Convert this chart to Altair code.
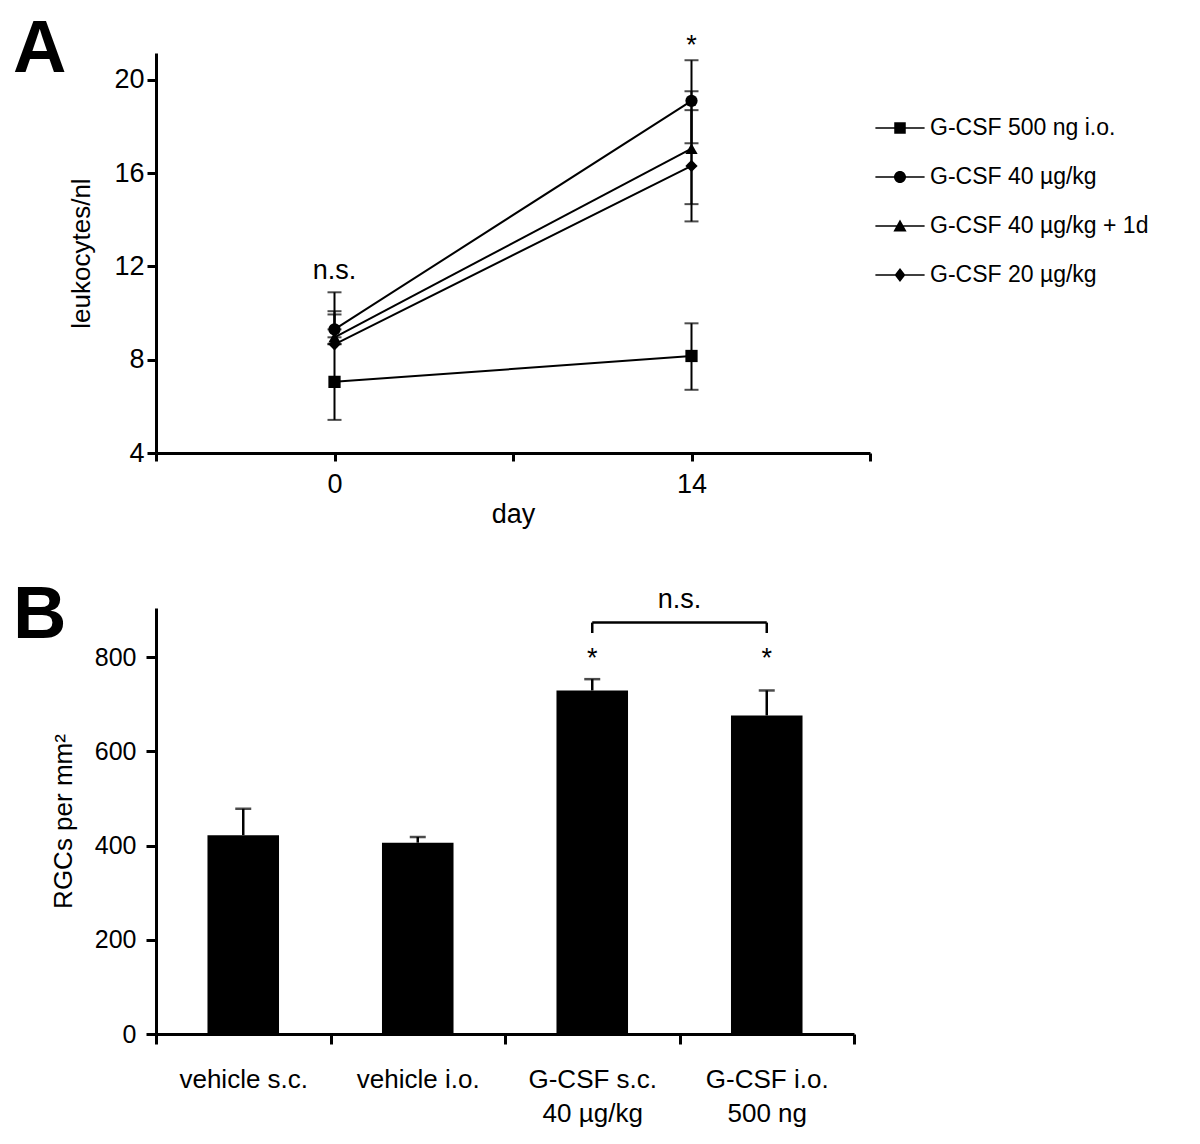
import altair as alt
import pandas as pd

FONT = "Liberation Sans"

# ---------------- Panel A data ----------------
series = ["G-CSF 500 ng i.o.", "G-CSF 40 µg/kg", "G-CSF 40 µg/kg + 1d", "G-CSF 20 µg/kg"]
days = [0, 14]
mean_day0 = [7.05, 9.30, 8.96, 8.66]
mean_day14 = [8.16, 19.10, 17.05, 16.31]
low_day0 = [5.42, 9.30, 8.96, 8.66]
high_day0 = [8.68, 10.89, 10.08, 9.94]
low_day14 = [6.71, 17.28, 14.67, 13.93]
high_day14 = [9.56, 20.84, 19.51, 18.70]
plot_shapes = ["square", "circle", "triangle-up", "diamond"]
# legend symbols: a thin filled bar (the line) plus the marker, all drawn clockwise
LEG_LINE = "M-2.05,-0.07H2.05V0.07H-2.05Z"
legend_paths = [
    LEG_LINE + "M-0.48,-0.48H0.48V0.48H-0.48Z",
    LEG_LINE + "M-0.5,0A0.5,0.5 0 1,1 0.5,0A0.5,0.5 0 1,1 -0.5,0Z",
    LEG_LINE + "M0,-0.55L0.55,0.45H-0.55Z",
    LEG_LINE + "M0,-0.58L0.45,0L0,0.58L-0.45,0Z",
]
day_ticks = [-7, 0, 7, 14, 21]
leuko_ticks = [4, 8, 12, 16, 20]
ann_a_text = ["n.s.", "*"]
ann_a_day = [0, 14]
ann_a_value = [11.8, 21.45]

# ---------------- Panel B data ----------------
groups = ["vehicle s.c.", "vehicle i.o.", "G-CSF s.c.|40 µg/kg", "G-CSF i.o.|500 ng"]
rgc_mean = [422, 406, 729, 676]
rgc_upper = [478, 418, 753, 729]
rgc_ticks = [0, 200, 400, 600, 800]
star_groups = ["G-CSF s.c.|40 µg/kg", "G-CSF i.o.|500 ng"]
star_value = [795, 795]
bracket_from = "G-CSF s.c.|40 µg/kg"
bracket_to = "G-CSF i.o.|500 ng"
bracket_level = 873
bracket_drop = 851
bracket_label = "n.s."
bracket_label_value = 921

# ---------------- build tables ----------------
rows = []
for i, s in enumerate(series):
    rows.append(dict(series=s, day=days[0], mean=mean_day0[i], lo=low_day0[i], hi=high_day0[i]))
    rows.append(dict(series=s, day=days[1], mean=mean_day14[i], lo=low_day14[i], hi=high_day14[i]))
dfA = pd.DataFrame(rows)
dfAnnA = pd.DataFrame(dict(text=ann_a_text, day=ann_a_day, value=ann_a_value))

dfB = pd.DataFrame(dict(group=groups, mean=rgc_mean, upper=rgc_upper))
dfStar = pd.DataFrame(dict(group=star_groups, value=star_value))
dfBrH = pd.DataFrame(dict(g1=[bracket_from], g2=[bracket_to], level=[bracket_level]))
dfBrV = pd.DataFrame(dict(group=[bracket_from, bracket_to], lo=[bracket_drop] * 2, hi=[bracket_level] * 2))
dfNs = pd.DataFrame(dict(g1=[bracket_from], value=[bracket_label_value], text=[bracket_label]))

# ---------------- Panel A ----------------
xA = alt.X("day:Q", scale=alt.Scale(domain=[-7, 21], nice=False, zero=False),
           axis=alt.Axis(values=day_ticks, title="day",
                         labelExpr="datum.value == 0 || datum.value == 14 ? datum.label : ''",
                         tickSize=8, labelPadding=10, titlePadding=4))
yScaleA = alt.Scale(domain=[4, 21.15], nice=False, zero=False)

base = alt.Chart(dfA)
linesA = base.mark_line(color="black", strokeWidth=2).encode(
    x=xA,
    y=alt.Y("mean:Q", scale=yScaleA,
            axis=alt.Axis(values=leuko_ticks, title="leukocytes/nl", tickSize=9,
                          labelPadding=3, titlePadding=19)),
    detail="series:N",
)
errA = base.mark_rule(color="black", strokeWidth=2).encode(
    x="day:Q", y=alt.Y("lo:Q", scale=yScaleA), y2="hi:Q")
capsA = base.transform_fold(["lo", "hi"], as_=["end", "v"]).mark_tick(
    orient="horizontal", size=14, thickness=2, color="black").encode(
    x="day:Q", y=alt.Y("v:Q", scale=yScaleA))

# invisible layer that only carries the legend (line-through-marker symbols)
legendA = base.mark_point(filled=True, size=576, color="black", opacity=0).encode(
    x="day:Q", y=alt.Y("mean:Q", scale=yScaleA),
    shape=alt.Shape("series:N", scale=alt.Scale(domain=series, range=legend_paths),
                    legend=alt.Legend(title=None, orient="none", legendX=732, legendY=63,
                                      symbolSize=576, symbolOpacity=1,
                                      symbolFillColor="black", symbolStrokeWidth=0,
                                      labelFont=FONT, labelFontSize=23,
                                      labelColor="black", labelOffset=18, rowPadding=25,
                                      padding=0, labelLimit=400)),
)
pointLayers = []
for s, shp in zip(series, plot_shapes):
    pointLayers.append(
        base.transform_filter(alt.datum.series == s).mark_point(
            filled=True, size=150, color="black", opacity=1, shape=shp).encode(
            x="day:Q", y=alt.Y("mean:Q", scale=yScaleA))
    )
annA = alt.Chart(dfAnnA).mark_text(font=FONT, fontSize=27, color="black", baseline="middle").encode(
    x="day:Q", y=alt.Y("value:Q", scale=yScaleA), text="text:N")

panelA = alt.layer(linesA, errA, capsA, legendA, *pointLayers, annA).properties(
    width=714, height=400,
    title=alt.TitleParams("A", anchor="start", frame="group", fontSize=74, fontWeight="bold",
                          font=FONT, color="black", dx=-143, dy=56, offset=0),
)

# ---------------- Panel B ----------------
xB = alt.X("group:N", sort=groups,
           scale=alt.Scale(domain=groups, paddingInner=0, paddingOuter=0),
           axis=alt.Axis(title=None, labelAngle=0, tickBand="extent", tickSize=10,
                         labelExpr="split(datum.label, '|')", labelLineHeight=34,
                         labelPadding=22, labelFontSize=26))
yScaleB = alt.Scale(domain=[0, 904], nice=False, zero=True)

baseB = alt.Chart(dfB)
barsB = baseB.mark_bar(color="black", width=alt.RelativeBandSize(0.41)).encode(
    x=xB,
    y=alt.Y("mean:Q", scale=yScaleB,
            axis=alt.Axis(values=rgc_ticks, title="RGCs per mm²", tickSize=10,
                          labelPadding=10, titlePadding=18, labelFontSize=25)),
)
errB = baseB.mark_rule(color="black", strokeWidth=2.5).encode(
    x=alt.X("group:N", sort=groups), y=alt.Y("mean:Q", scale=yScaleB), y2="upper:Q")
capsB = baseB.mark_tick(orient="horizontal", size=16, thickness=2.5, color="black").encode(
    x=alt.X("group:N", sort=groups), y=alt.Y("upper:Q", scale=yScaleB))
starsB = alt.Chart(dfStar).mark_text(text="*", font=FONT, fontSize=27, color="black",
                                     baseline="middle").encode(
    x=alt.X("group:N", sort=groups), y=alt.Y("value:Q", scale=yScaleB))
brH = alt.Chart(dfBrH).mark_rule(color="black", strokeWidth=2.5).encode(
    x=alt.X("g1:N", sort=groups), x2="g2:N", y=alt.Y("level:Q", scale=yScaleB))
brV = alt.Chart(dfBrV).mark_rule(color="black", strokeWidth=2.5).encode(
    x=alt.X("group:N", sort=groups), y=alt.Y("lo:Q", scale=yScaleB), y2="hi:Q")
nsB = alt.Chart(dfNs).mark_text(font=FONT, fontSize=27, color="black", baseline="middle").encode(
    x=alt.X("g1:N", sort=groups, bandPosition=1), y=alt.Y("value:Q", scale=yScaleB),
    text="text:N")

panelB = alt.layer(barsB, errB, capsB, starsB, brH, brV, nsB).properties(
    width=698, height=426,
    title=alt.TitleParams("B", anchor="start", frame="group", fontSize=74, fontWeight="bold",
                          font=FONT, color="black", dx=-143, dy=68, offset=0),
)

chart = alt.vconcat(panelA, panelB, spacing=51).configure_view(stroke=None).configure_axis(
    labelFont=FONT, titleFont=FONT, labelFontSize=27, titleFontSize=27,
    labelColor="black", titleColor="black", domainColor="black", tickColor="black",
    domainWidth=3, tickWidth=3, grid=False, titleFontWeight="normal",
).configure_axisY(titleFontSize=26)

chart.save("out.html", embed_options={"renderer": "svg", "actions": False})
